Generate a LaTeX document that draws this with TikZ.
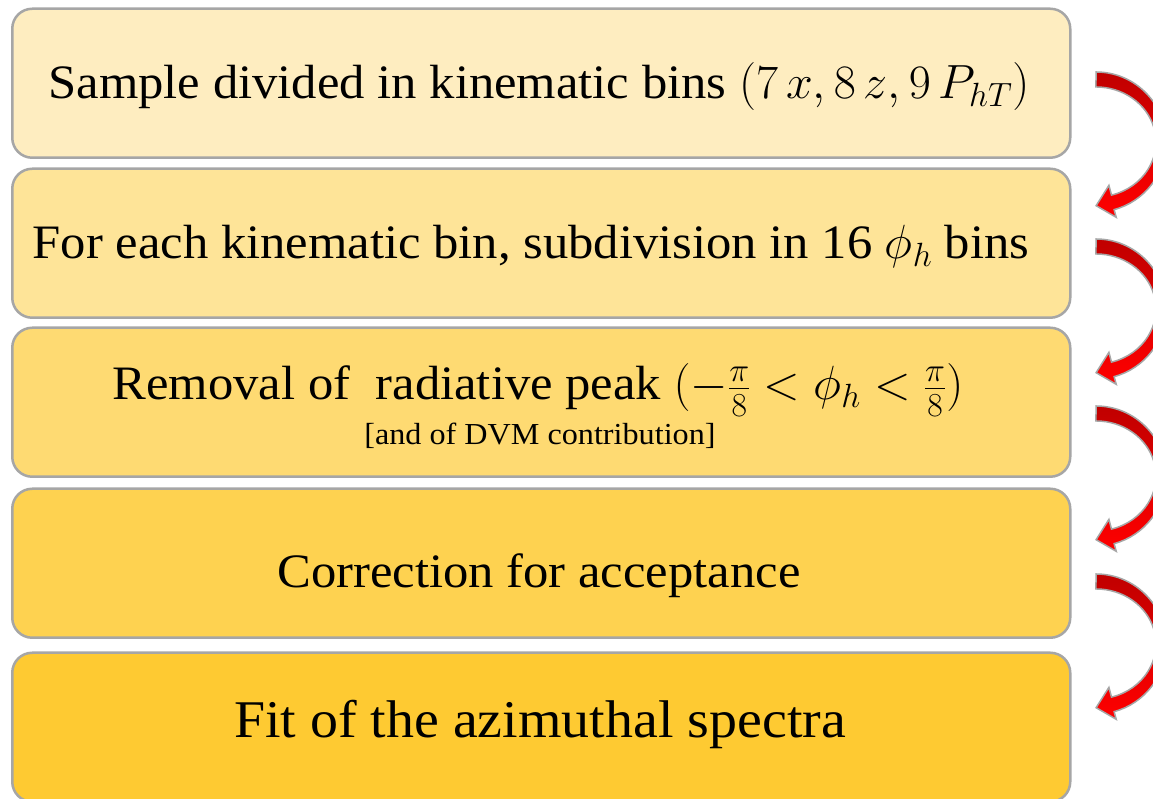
\RequirePackage{fix-cm}
\documentclass[tikz,border=0pt]{standalone}
\usepackage{fontspec}
\setmainfont{Liberation Serif}[FakeStretch=1.055]
\definecolor{c1}{RGB}{254,237,192}
\definecolor{c2}{RGB}{254,228,152}
\definecolor{c3}{RGB}{254,218,114}
\definecolor{c4}{RGB}{254,210,80}
\definecolor{c5}{RGB}{254,202,50}
\definecolor{bordergray}{RGB}{166,166,166}
\definecolor{arrdark}{RGB}{192,0,0}
\definecolor{arrred}{RGB}{255,0,0}
\tikzset{
  stepbox/.style={draw=bordergray, line width=2.5pt, rounded corners=20pt, anchor=south west,
    minimum width=1058pt, minimum height=149pt, inner sep=0pt},
  steptext/.style={anchor=base, inner sep=0pt, font=\fontsize{48}{58}\selectfont},
  subtext/.style={anchor=base, inner sep=0pt, font=\fontsize{30.5}{36}\selectfont},
  curvarrow/.style={top color=arrdark, bottom color=arrred, draw=bordergray, line width=1.5pt, line join=miter}
}
\newcommand{\curvedarrowshape}[1]{%
  \begin{scope}[yshift=#1]
    \shade[curvarrow] (1096,727) arc[start angle=90, end angle=-75, x radius=70, y radius=70]
      -- (1116.2,581.7) -- (1096.1,593.3) -- (1108.9,613.6) -- (1111.5,603.9)
      arc[start angle=-75, end angle=90, x radius=60, y radius=55] -- cycle;
  \end{scope}}
\newcommand{\smallfrac}[2]{{\textstyle\frac{#1}{#2}}}
\begin{document}
\begin{tikzpicture}[x=1pt,y=1pt]
\path[use as bounding box] (0,0) rectangle (1153,799);
\clip (0,0) rectangle (1153,799);
\fill[white] (0,0) rectangle (1153,799);
\node[stepbox, fill=c1] (b1) at (11,640) {};
\node[stepbox, fill=c2] (b2) at (11,480) {};
\node[stepbox, fill=c3] (b3) at (11,321) {};
\node[stepbox, fill=c4] (b4) at (11,160) {};
\node[stepbox, fill=c5] (b5) at (11,-4) {};
\node[steptext] (t1) at (539,700) {Sample divided in kinematic bins $(7\,x, 8\,z, 9\,P_{hT})$};
\node[steptext] (t2) at (531,540) {For each kinematic bin, subdivision in 16 $\phi_h$ bins};
\node[steptext] (t3) at (538,399) {Removal of \ radiative peak $(-\smallfrac{\pi}{8} < \phi_h < \smallfrac{\pi}{8})$};
\node[subtext] (t3b) at (540,354) {[and of DVM contribution]};
\node[steptext] (t4) at (539,211) {Correction for acceptance};
\node[steptext, font=\fontsize{53}{63}\selectfont] (t5) at (540,61) {Fit of the azimuthal spectra};
\curvedarrowshape{0pt}
\curvedarrowshape{-167pt}
\curvedarrowshape{-334pt}
\curvedarrowshape{-502pt}
\end{tikzpicture}
\end{document}
